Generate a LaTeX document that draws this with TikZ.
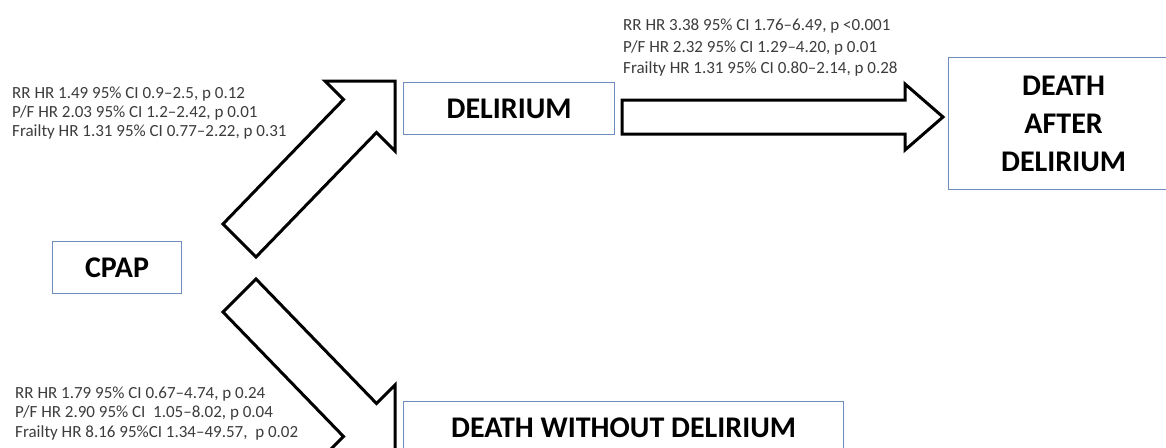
\documentclass[tikz,border=0pt]{standalone}
\usepackage{fontspec}
\setmainfont{Carlito}
\definecolor{boxblue}{RGB}{110,140,190}
\definecolor{lblgrey}{RGB}{60,60,60}
\begin{document}
\begin{tikzpicture}[x=1pt,y=-1pt,
  box/.style={draw=boxblue, line width=1.2pt, fill=white, inner sep=0pt, anchor=north west,
              font=\fontsize{30}{38}\selectfont\bfseries, align=center},
  lbl/.style={anchor=base west, inner sep=0pt, text=lblgrey, font=\fontsize{17}{20}\selectfont},
  blockarrow/.style={draw=black, line width=3pt, fill=white, line join=miter, miter limit=10}
]
\path[use as bounding box] (0,0) rectangle (1166,447);
\clip (0,0) rectangle (1166,447);

% boxes
\node[box, minimum width=129pt, minimum height=52pt] (cpap) at (52,241) {CPAP};
\node[box, minimum width=211pt, minimum height=52pt] (del) at (403,82) {DELIRIUM};
\node[box, minimum width=230pt, minimum height=132pt] (dad) at (948,57) {DEATH\\AFTER\\DELIRIUM};
\node[box, minimum width=440pt, minimum height=52pt] (dwd) at (403,401) {DEATH WITHOUT DELIRIUM};

% block arrows
\draw[blockarrow] (223,224) -- (343.5,99.5) -- (325,81) -- (395,81) -- (395,151) -- (376.5,132.5) -- (256,257) -- cycle;
\draw[blockarrow] (223,312) -- (343.5,436.5) -- (325,455) -- (395,455) -- (395,385) -- (376.5,403.5) -- (256,279) -- cycle;
\draw[blockarrow] (622,100) -- (905,100) -- (905,84) -- (943,117) -- (905,150) -- (905,134) -- (622,134) -- cycle;

% labels
\node[lbl] (a1) at (12,98.5) {RR HR 1.49 95\% CI 0.9--2.5, p 0.12};
\node[lbl] (a2) at (12,117.5) {P/F HR 2.03 95\% CI 1.2--2.42, p 0.01};
\node[lbl] (a3) at (12,136.5) {Frailty HR 1.31 95\% CI 0.77--2.22, p 0.31};

\node[lbl] (b1) at (623,30.5) {RR HR 3.38 95\% CI 1.76--6.49, p <0.001};
\node[lbl] (b2) at (623,52) {P/F HR 2.32 95\% CI 1.29--4.20, p 0.01};
\node[lbl] (b3) at (623,73.5) {Frailty HR 1.31 95\% CI 0.80--2.14, p 0.28};

\node[lbl] (c1) at (15,398.5) {RR HR 1.79 95\% CI 0.67--4.74, p 0.24};
\node[lbl] (c2) at (15,417.5) {P/F HR 2.90 95\% CI \ 1.05--8.02, p 0.04};
\node[lbl] (c3) at (15,437.5) {Frailty HR 8.16 95\%CI 1.34--49.57, \ p 0.02};
\end{tikzpicture}
\end{document}
